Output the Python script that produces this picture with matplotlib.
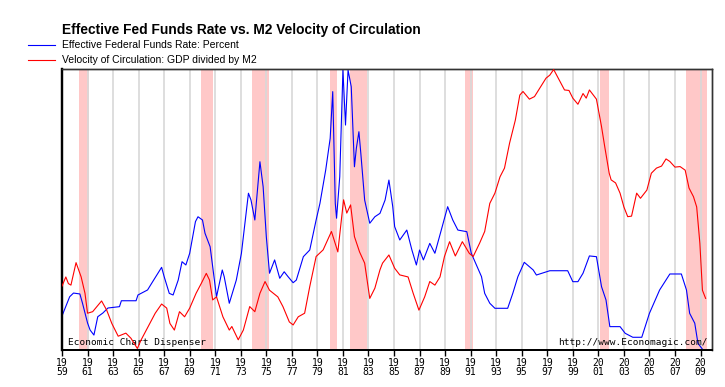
import matplotlib.pyplot as plt

# Effective fed funds rate (percent)
ff_years = [1959.0, 1959.6, 1959.9, 1960.4, 1960.6, 1961.0, 1961.2, 1961.5, 1961.8, 1962.2,
            1962.6, 1963.5, 1963.65, 1964.8, 1964.95, 1965.7, 1966.1, 1966.8, 1967.0, 1967.4,
            1967.7, 1968.1, 1968.4, 1968.7, 1969.0, 1969.45, 1969.65, 1970.0, 1970.2, 1970.6,
            1970.8, 1971.1, 1971.55, 1971.7, 1972.1, 1972.65, 1973.05, 1973.6, 1973.8, 1974.1,
            1974.5, 1974.75, 1975.0, 1975.25, 1975.65, 1976.05, 1976.4, 1976.7, 1977.1, 1977.35,
            1977.9, 1978.4, 1978.9, 1979.2, 1979.65, 1980.0, 1980.2, 1980.4, 1980.5, 1980.75,
            1981.0, 1981.2, 1981.4, 1981.65, 1981.9, 1982.05, 1982.25, 1982.4, 1982.7, 1983.1,
            1983.5, 1983.9, 1984.3, 1984.6, 1984.9, 1985.05, 1985.45, 1986.0, 1986.4, 1986.75,
            1987.0, 1987.3, 1987.8, 1988.2, 1988.7, 1989.2, 1989.6, 1990.0, 1990.7, 1991.05,
            1991.45, 1991.85, 1992.1, 1992.5, 1992.9, 1993.9, 1994.3, 1994.7, 1995.2, 1995.9,
            1996.15, 1997.2, 1998.6, 1999.0, 1999.4, 1999.8, 2000.3, 2000.85, 2001.25, 2001.6,
            2001.9, 2002.7, 2003.1, 2003.7, 2004.4, 2005.0, 2005.8, 2006.6, 2007.5, 2007.9,
            2008.15, 2008.55, 2008.8, 2009.2]
ff_rate = [2.40, 3.70, 3.95, 3.89, 3.28, 1.93, 1.45, 1.11, 2.35, 2.60,
           2.94, 3.03, 3.43, 3.43, 3.82, 4.16, 4.72, 5.69, 5.06, 3.93,
           3.82, 4.83, 6.07, 5.85, 6.64, 8.78, 9.11, 8.89, 7.99, 7.08,
           5.73, 3.70, 5.51, 5.06, 3.26, 4.83, 6.64, 10.70, 10.24, 8.89,
           12.83, 11.14, 7.76, 5.29, 6.19, 4.95, 5.39, 5.06, 4.65, 4.83,
           6.41, 6.86, 8.89, 10.02, 12.27, 14.41, 17.57, 10.02, 9.01, 11.82,
           19.03, 15.31, 19.03, 17.90, 12.49, 13.74, 14.86, 13.40, 10.24, 8.67,
           9.11, 9.34, 10.24, 11.59, 9.79, 8.44, 7.54, 8.21, 6.86, 5.85,
           6.86, 6.19, 7.31, 6.64, 8.21, 9.79, 8.89, 8.21, 8.10, 6.64,
           5.85, 5.06, 3.93, 3.26, 2.92, 2.92, 3.93, 5.06, 6.03, 5.51,
           5.17, 5.46, 5.46, 4.72, 4.72, 5.29, 6.46, 6.41, 4.38, 3.48,
           1.68, 1.68, 1.23, 0.96, 0.96, 2.58, 4.16, 5.24, 5.24, 4.16,
           2.58, 1.91, 0.55, 0.10]

# M2 velocity (GDP / M2)
vel_years = [1959.0, 1959.3, 1959.5, 1959.7, 1960.1, 1960.5, 1960.8, 1961.0, 1961.4, 1962.1,
             1962.5, 1962.9, 1963.4, 1964.0, 1964.4, 1964.9, 1965.2, 1965.75, 1966.3, 1966.8,
             1967.2, 1967.45, 1967.8, 1968.2, 1968.6, 1969.0, 1969.5, 1969.9, 1970.3, 1970.55,
             1970.8, 1971.1, 1971.6, 1972.1, 1972.3, 1972.8, 1973.2, 1973.7, 1974.1, 1974.5,
             1974.9, 1975.25, 1975.9, 1976.3, 1976.8, 1977.1, 1977.5, 1978.0, 1978.4, 1978.9,
             1979.45, 1980.1, 1980.6, 1981.05, 1981.3, 1981.6, 1981.9, 1982.3, 1982.7, 1983.1,
             1983.5, 1983.9, 1984.1, 1984.6, 1985.05, 1985.45, 1986.1, 1986.5, 1986.95, 1987.4,
             1987.8, 1988.2, 1988.6, 1988.95, 1989.35, 1989.8, 1990.35, 1990.9, 1991.2, 1991.7,
             1992.1, 1992.5, 1992.9, 1993.3, 1993.65, 1994.05, 1994.5, 1994.85, 1995.1, 1995.6,
             1996.0, 1996.4, 1996.9, 1997.2, 1997.5, 1997.95, 1998.35, 1998.7, 1999.0, 1999.4,
             1999.8, 2000.05, 2000.3, 2000.85, 2001.25, 2001.5, 2001.85, 2002.0, 2002.35, 2002.7,
             2003.0, 2003.3, 2003.6, 2004.0, 2004.3, 2004.8, 2005.15, 2005.55, 2005.95, 2006.3,
             2006.6, 2007.0, 2007.4, 2007.8, 2008.1, 2008.45, 2008.7, 2008.95, 2009.15, 2009.4]
velocity = [1.775, 1.793, 1.780, 1.777, 1.821, 1.793, 1.761, 1.722, 1.725, 1.746,
            1.728, 1.702, 1.677, 1.683, 1.673, 1.653, 1.670, 1.696, 1.722, 1.740,
            1.732, 1.702, 1.689, 1.725, 1.715, 1.732, 1.761, 1.780, 1.800, 1.787,
            1.748, 1.754, 1.715, 1.689, 1.696, 1.670, 1.689, 1.735, 1.725, 1.761,
            1.784, 1.767, 1.754, 1.735, 1.705, 1.699, 1.715, 1.722, 1.774, 1.833,
            1.846, 1.882, 1.842, 1.944, 1.918, 1.934, 1.872, 1.842, 1.820, 1.751,
            1.771, 1.807, 1.820, 1.836, 1.810, 1.797, 1.793, 1.761, 1.728, 1.754,
            1.784, 1.777, 1.793, 1.833, 1.862, 1.834, 1.862, 1.839, 1.833, 1.859,
            1.882, 1.937, 1.957, 1.989, 2.006, 2.055, 2.100, 2.149, 2.156, 2.141,
            2.146, 2.162, 2.182, 2.188, 2.199, 2.178, 2.159, 2.158, 2.143, 2.131,
            2.152, 2.143, 2.159, 2.141, 2.087, 2.048, 1.996, 1.983, 1.977, 1.957,
            1.930, 1.911, 1.912, 1.957, 1.947, 1.963, 1.996, 2.006, 2.010, 2.024,
            2.019, 2.008, 2.009, 2.002, 1.967, 1.950, 1.930, 1.859, 1.767, 1.751]

# recession periods (start, end)
recessions = [(1960.3, 1961.1), (1969.9, 1970.85), (1973.9, 1975.2), (1980.0, 1980.5),
              (1981.55, 1982.85), (1990.55, 1991.15), (2001.15, 2001.85), (2007.85, 2009.5)]

tick_years = list(range(1959, 2010, 2))

fig = plt.figure(figsize=(7.25, 3.87), dpi=100)
ax = fig.add_axes([62 / 725, 1 - 350 / 387, 650 / 725, 281 / 387])

for start, end in recessions:
    ax.axvspan(start, end, color='#ffc8c8', lw=0, zorder=0)

line_ff, = ax.plot(ff_years, ff_rate, color='#0000ff', lw=0.8, zorder=3)
ax.set_xlim(1959.0, 2009.9)
ax.set_ylim(0.1, 19.1)
ax.set_yticks([])

ax2 = ax.twinx()
line_vel, = ax2.plot(vel_years, velocity, color='#ff0000', lw=0.8, zorder=3)
ax2.set_ylim(1.65, 2.2)
ax2.set_yticks([])

ax.set_xticks(tick_years)
ax.set_xticklabels([f"{y // 100}\n{y % 100:02d}" for y in tick_years],
                   family='DejaVu Sans Mono', fontsize=7, linespacing=0.9)
ax.tick_params(axis='x', direction='out', length=4, width=1, pad=1.5, color='black')
ax.grid(axis='x', color='#d8d8d8', lw=1.2, zorder=1)
ax.set_axisbelow(True)

for a in (ax, ax2):
    a.spines['left'].set_linewidth(1.6)
    a.spines['bottom'].set_linewidth(1.4)
    a.spines['top'].set_color('#333333')
    a.spines['right'].set_color('#333333')
    a.spines['top'].set_linewidth(1.0)
    a.spines['right'].set_linewidth(1.0)

ax.text(0.009, 0.028, "Economic Chart Dispenser", transform=ax.transAxes,
        family='DejaVu Sans Mono', fontsize=6.8, va='center', ha='left', zorder=5)
ax2.text(0.994, 0.028, "http://www.Economagic.com/", transform=ax.transAxes,
         family='DejaVu Sans Mono', fontsize=6.8, va='center', ha='right', zorder=5)

fig.text(62 / 725, 1 - 30 / 387, "Effective Fed Funds Rate vs. M2 Velocity of Circulation",
         fontsize=9.9, fontweight='bold', family='Liberation Sans', va='center', ha='left')

fig.legend([line_ff, line_vel],
           ["Effective Federal Funds Rate: Percent", "Velocity of Circulation: GDP divided by M2"],
           loc='upper left', bbox_to_anchor=(28 / 725, 1 - 40.5 / 387), frameon=False,
           prop={'family': 'Liberation Sans', 'size': 7.5}, handlelength=2.6,
           handletextpad=0.65, labelspacing=0.45, borderpad=0, borderaxespad=0)

plt.savefig("out.png", dpi=100)
